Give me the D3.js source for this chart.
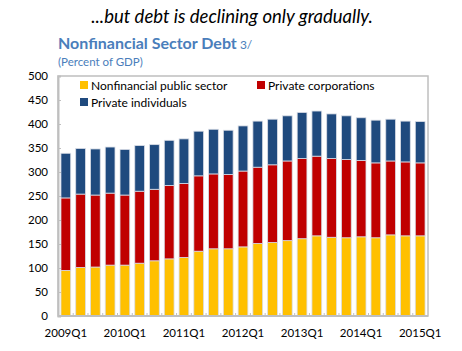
<!DOCTYPE html>
<html>
<head>
<meta charset="utf-8">
<script src="https://cdn.jsdelivr.net/npm/d3@7"></script>
<style>
  body { margin: 0; background: #fff; }
  text { font-family: Lato, "Open Sans", sans-serif; }
</style>
</head>
<body>
<div id="chart"></div>
<script>
// quarters and series (percent of GDP)
var quarters = ["2009Q1","2009Q2","2009Q3","2009Q4","2010Q1","2010Q2","2010Q3","2010Q4",
                "2011Q1","2011Q2","2011Q3","2011Q4","2012Q1","2012Q2","2012Q3","2012Q4",
                "2013Q1","2013Q2","2013Q3","2013Q4","2014Q1","2014Q2","2014Q3","2014Q4","2015Q1"];
var publicSector = [95,101,102,106,106,110,115,119,122,135,140,140,144,151,153,157,161,167,164,163,165,163,169,167,167];
var corporations = [151,153,150,150,146,150,149,153,154,157,156,155,158,159,162,166,167,166,164,163,159,156,154,154,152];
var individuals  = [93,95,96,96,95,95,93,94,93,93,93,92,94,96,95,94,96,94,93,91,89,89,87,85,86];
var seriesNames = ["Nonfinancial public sector", "Private corporations", "Private individuals"];
var yTicks = [0,50,100,150,200,250,300,350,400,450,500];
var xLabels = ["2009Q1","2010Q1","2011Q1","2012Q1","2013Q1","2014Q1","2015Q1"];

var W = 462, H = 351;
var margin = {top: 76, right: 34, bottom: 35, left: 58},
    width = W - margin.left - margin.right,
    height = H - margin.top - margin.bottom;

var colors = {};
colors[seriesNames[0]] = "#ffc000";
colors[seriesNames[1]] = "#c00000";
colors[seriesNames[2]] = "#1f4a7e";

var rows = quarters.map(function(q, i) {
  var r = {q: q};
  r[seriesNames[0]] = publicSector[i];
  r[seriesNames[1]] = corporations[i];
  r[seriesNames[2]] = individuals[i];
  return r;
});
var stacked = d3.stack().keys(seriesNames)(rows);

var svg = d3.select("#chart").append("svg")
  .attr("width", W).attr("height", H);

// titles
svg.append("text")
  .attr("x", 232).attr("y", 23)
  .attr("text-anchor", "middle")
  .style("font-style", "italic")
  .style("font-size", "18.5px")
  .style("fill", "#000")
  .text("...but debt is declining only gradually.");

var t = svg.append("text").attr("x", 58).attr("y", 49).style("fill", "#4a7ebb");
t.append("tspan").style("font-weight", "bold").style("font-size", "16px").text("Nonfinancial Sector Debt");
t.append("tspan").style("font-size", "12px").text(" 3/");

svg.append("text")
  .attr("x", 58).attr("y", 66)
  .style("fill", "#4a7ebb")
  .style("font-size", "11.5px")
  .text("(Percent of GDP)");

var g = svg.append("g")
  .attr("transform", "translate(" + margin.left + "," + margin.top + ")");

var x = d3.scaleBand().domain(quarters).range([0, width])
  .paddingInner(0.34).paddingOuter(0.2);
var y = d3.scaleLinear().domain([0, 500]).range([height, 0]);

// frame
g.append("rect")
  .attr("x", 0).attr("y", 0).attr("width", width).attr("height", height)
  .attr("fill", "none").attr("stroke", "#bfbfbf").attr("stroke-width", 1.5);

// bars
g.selectAll(".layer")
  .data(stacked)
  .enter().append("g")
    .attr("class", "layer")
    .attr("fill", function(d) { return colors[d.key]; })
  .selectAll("rect")
  .data(function(d) { return d; })
  .enter().append("rect")
    .attr("x", function(d) { return x(d.data.q); })
    .attr("width", x.bandwidth())
    .attr("y", function(d) { return y(d[1]); })
    .attr("height", function(d) { return y(d[0]) - y(d[1]); })
    .attr("stroke", "#d9dde6")
    .attr("stroke-width", 0.8);

// y axis
var yAxis = g.append("g")
  .call(d3.axisLeft(y).tickValues(yTicks).tickSize(-3).tickPadding(10));
yAxis.select(".domain").attr("stroke", "#bfbfbf").attr("stroke-width", 2);
yAxis.selectAll(".tick line").attr("stroke", "#bfbfbf");
yAxis.selectAll("text").style("font-size", "11.5px").style("fill", "#000")
  .style("font-family", "Lato, 'Open Sans', sans-serif");

// x axis: ticks at band boundaries, labels every year
var xAxis = g.append("g").attr("transform", "translate(0," + height + ")");
xAxis.append("line")
  .attr("x1", 0).attr("x2", width).attr("y1", 0).attr("y2", 0)
  .attr("stroke", "#bfbfbf").attr("stroke-width", 2);
xAxis.selectAll(".bt")
  .data(quarters.slice(1))
  .enter().append("line")
    .attr("x1", function(d) { return x(d) - x.step() * x.paddingInner() / 2; })
    .attr("x2", function(d) { return x(d) - x.step() * x.paddingInner() / 2; })
    .attr("y1", 0).attr("y2", -3)
    .attr("stroke", "#bfbfbf");
xAxis.selectAll(".xl")
  .data(xLabels)
  .enter().append("text")
    .attr("x", function(d) { return x(d) + x.bandwidth() / 2; })
    .attr("y", 21)
    .attr("text-anchor", "middle")
    .style("font-size", "11.5px")
    .style("fill", "#000")
    .text(function(d) { return d; });

// legend
var legendPos = [[22, 5], [199, 5], [22, 22]];
var legend = g.selectAll(".lg")
  .data(seriesNames)
  .enter().append("g")
    .attr("transform", function(d, i) { return "translate(" + legendPos[i][0] + "," + legendPos[i][1] + ")"; });
legend.append("rect")
  .attr("width", 8).attr("height", 8)
  .attr("fill", function(d) { return colors[d]; });
legend.append("text")
  .attr("x", 11).attr("y", 8.5)
  .style("font-size", "12px")
  .style("fill", "#000")
  .text(function(d) { return d; });
</script>
</body>
</html>
